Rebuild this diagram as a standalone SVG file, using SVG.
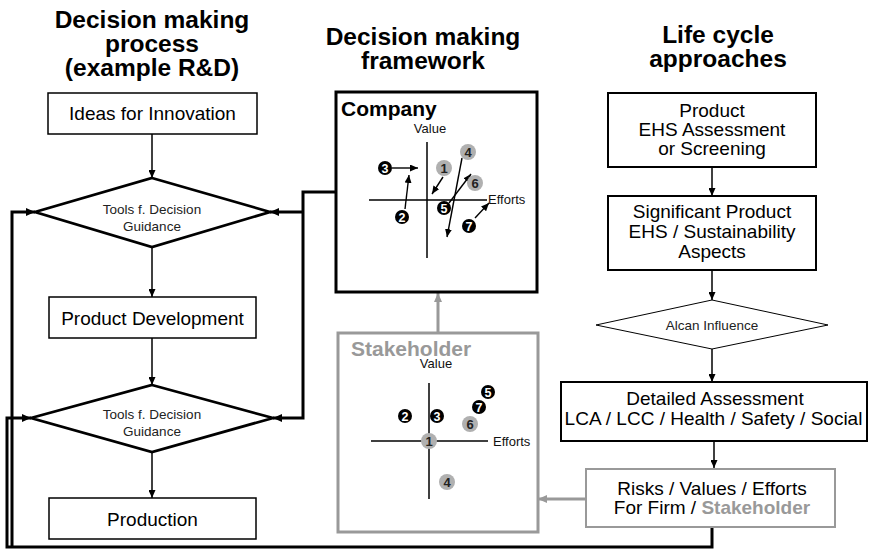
<svg xmlns="http://www.w3.org/2000/svg" width="872" height="552" viewBox="0 0 872 552">
<defs>
<marker id="ah" markerUnits="userSpaceOnUse" markerWidth="9" markerHeight="8" refX="9" refY="4" orient="auto"><path d="M0,0 L9,4 L0,8 z" fill="#000"/></marker>
<marker id="ahs" markerUnits="userSpaceOnUse" markerWidth="8" markerHeight="7" refX="8" refY="3.5" orient="auto"><path d="M0,0 L8,3.5 L0,7 z" fill="#000"/></marker>
<marker id="ahg" markerUnits="userSpaceOnUse" markerWidth="9" markerHeight="8" refX="9" refY="4" orient="auto"><path d="M0,0 L9,4 L0,8 z" fill="#999"/></marker>
</defs>
<style>
text{font-family:"Liberation Sans",Arial,Helvetica,sans-serif}
.title{font-size:24.5px;font-weight:bold;text-anchor:middle;fill:#000}
.lbl{font-size:19px;text-anchor:middle;fill:#000}
.sm{font-size:13.5px;text-anchor:middle;fill:#222}
.ax{font-size:13px;fill:#111}
.box{fill:#fff;stroke:#000;stroke-width:1.5}
.box2{fill:#fff;stroke:#000;stroke-width:2}
.dia{fill:#fff;stroke:#000;stroke-width:2.7}
.thin{fill:none;stroke:#000;stroke-width:1.5}
.thick{fill:none;stroke:#000;stroke-width:3}
.axis{stroke:#000;stroke-width:1.5}
.cb{fill:#000}
.cg{fill:#b0b0b0}
.nb{font-size:12.5px;font-weight:bold;fill:#fff;text-anchor:middle}
.ng{font-size:13px;font-weight:bold;fill:#222;text-anchor:middle}
.parr{fill:none;stroke:#000;stroke-width:1.4}
</style>

<g id="titles">
<text class="title" x="152" y="28">Decision making</text>
<text class="title" x="152" y="52">process</text>
<text class="title" x="152" y="76">(example R&amp;D)</text>
<text class="title" x="423" y="45">Decision making</text>
<text class="title" x="423" y="69">framework</text>
<text class="title" x="718" y="43">Life cycle</text>
<text class="title" x="718" y="67">approaches</text>
</g>

<g id="connectors">
<line class="thin" x1="152" y1="134" x2="152" y2="178" marker-end="url(#ahs)"/>
<line class="thin" x1="152" y1="247" x2="152" y2="297" marker-end="url(#ahs)"/>
<line class="thin" x1="152" y1="338" x2="152" y2="385" marker-end="url(#ahs)"/>
<line class="thin" x1="152" y1="452" x2="152" y2="498" marker-end="url(#ahs)"/>
<line class="thin" x1="712" y1="167" x2="712" y2="196" marker-end="url(#ahs)"/>
<line class="thin" x1="712" y1="270" x2="712" y2="300" marker-end="url(#ahs)"/>
<line class="thin" x1="712" y1="349" x2="712" y2="382" marker-end="url(#ahs)"/>
<line class="thin" x1="714" y1="441" x2="714" y2="468" marker-end="url(#ahs)"/>
<path class="thick" d="M336,192 H303 V418 H273" marker-end="url(#ah)"/>
<path class="thick" d="M303,212 H270" marker-end="url(#ah)"/>
<path class="thick" d="M712,527 V547 H7 V418 H31" marker-end="url(#ah)"/>
<path class="thick" d="M12,547 V212 H35" marker-end="url(#ah)"/>
<line x1="586" y1="499" x2="538" y2="499" stroke="#999" stroke-width="3" marker-end="url(#ahg)"/>
<line x1="438" y1="332" x2="438" y2="293" stroke="#999" stroke-width="3" marker-end="url(#ahg)"/>
</g>

<g id="ideas">
<rect class="box" x="48" y="93" width="209" height="41"/>
<text class="lbl" x="152.5" y="120">Ideas for Innovation</text>
</g>
<g id="tools1">
<polygon class="dia" points="152,178 270,212 152,247 35,212"/>
<text class="sm" x="152" y="214">Tools f. Decision</text>
<text class="sm" x="152" y="231">Guidance</text>
</g>
<g id="product-development">
<rect class="box" x="49" y="297" width="207" height="41"/>
<text class="lbl" x="152.5" y="325">Product Development</text>
</g>
<g id="tools2">
<polygon class="dia" points="152,385 273,418 152,452 31,418"/>
<text class="sm" x="152" y="419">Tools f. Decision</text>
<text class="sm" x="152" y="436">Guidance</text>
</g>
<g id="production">
<rect class="box" x="49" y="498" width="207" height="41"/>
<text class="lbl" x="152.5" y="526">Production</text>
</g>

<g id="company">
<rect x="336" y="92" width="201" height="200" fill="#fff" stroke="#000" stroke-width="3"/>
<text x="341" y="116" font-size="21" font-weight="bold" fill="#000">Company</text>
<text class="ax" x="430" y="133" text-anchor="middle">Value</text>
<line class="axis" x1="427" y1="142" x2="427" y2="258"/>
<line class="axis" x1="369" y1="200" x2="487" y2="200"/>
<text class="ax" x="488" y="204">Efforts</text>
<line class="parr" x1="392" y1="168" x2="418" y2="168" marker-end="url(#ahs)"/>
<line class="parr" x1="405" y1="209" x2="409" y2="175" marker-end="url(#ahs)"/>
<line class="parr" x1="443" y1="177" x2="432" y2="194" marker-end="url(#ahs)"/>
<line class="parr" x1="462" y1="158" x2="447" y2="237" marker-end="url(#ahs)"/>
<line class="parr" x1="449" y1="203" x2="471" y2="174" marker-end="url(#ahs)"/>
<line class="parr" x1="475" y1="218" x2="489" y2="203" marker-end="url(#ahs)"/>
<circle class="cb" cx="385" cy="168" r="7"/><text class="nb" x="385" y="172.5">3</text>
<circle class="cb" cx="402" cy="217" r="7"/><text class="nb" x="402" y="221.5">2</text>
<circle class="cg" cx="444" cy="168" r="8"/><text class="ng" x="444" y="172.5">1</text>
<circle class="cg" cx="468" cy="152" r="8"/><text class="ng" x="468" y="156.5">4</text>
<circle class="cg" cx="475" cy="183" r="8"/><text class="ng" x="475" y="187.5">6</text>
<circle class="cb" cx="444" cy="208" r="7"/><text class="nb" x="444" y="212.5">5</text>
<circle class="cb" cx="469" cy="226" r="7"/><text class="nb" x="469" y="230.5">7</text>
</g>

<g id="stakeholder">
<rect x="338" y="333" width="200" height="199" fill="#fff" stroke="#999" stroke-width="3"/>
<text x="351" y="356" font-size="21" font-weight="bold" fill="#999">Stakeholder</text>
<text class="ax" x="436" y="368" text-anchor="middle">Value</text>
<line class="axis" x1="429" y1="383" x2="429" y2="499"/>
<line class="axis" x1="371" y1="441" x2="488" y2="441"/>
<text class="ax" x="493" y="446">Efforts</text>
<circle class="cb" cx="405" cy="416" r="7"/><text class="nb" x="405" y="420.5">2</text>
<circle class="cb" cx="437" cy="416" r="7"/><text class="nb" x="437" y="420.5">3</text>
<circle class="cg" cx="429" cy="441" r="8"/><text class="ng" x="429" y="445.5">1</text>
<circle class="cg" cx="470" cy="424" r="8"/><text class="ng" x="470" y="428.5">6</text>
<circle class="cb" cx="479" cy="407" r="7"/><text class="nb" x="479" y="411.5">7</text>
<circle class="cb" cx="488" cy="392" r="7"/><text class="nb" x="488" y="396.5">5</text>
<circle class="cg" cx="447" cy="482" r="8"/><text class="ng" x="447" y="486.5">4</text>
</g>

<g id="ehs-assessment">
<rect class="box2" x="608" y="93" width="208" height="74"/>
<text class="lbl" x="712" y="117">Product</text>
<text class="lbl" x="712" y="136">EHS Assessment</text>
<text class="lbl" x="712" y="155">or Screening</text>
</g>
<g id="significant-aspects">
<rect class="box2" x="608" y="196" width="208" height="74"/>
<text class="lbl" x="712" y="218">Significant Product</text>
<text class="lbl" x="712" y="238">EHS / Sustainability</text>
<text class="lbl" x="712" y="258">Aspects</text>
</g>
<g id="alcan-influence">
<polygon points="712,300 828,325 712,349 596,325" fill="#fff" stroke="#000" stroke-width="1"/>
<text class="sm" x="712" y="330">Alcan Influence</text>
</g>
<g id="detailed-assessment">
<rect class="box2" x="561" y="382" width="306" height="59"/>
<text class="lbl" x="715" y="405">Detailed Assessment</text>
<text class="lbl" x="713.5" y="425">LCA / LCC / Health / Safety / Social</text>
</g>
<g id="risks">
<rect x="586" y="469" width="249" height="58" fill="#fff" stroke="#999" stroke-width="2"/>
<text class="lbl" x="712" y="495">Risks / Values / Efforts</text>
<text class="lbl" x="712" y="514">For Firm / <tspan font-weight="bold" fill="#999">Stakeholder</tspan></text>
</g>
</svg>
